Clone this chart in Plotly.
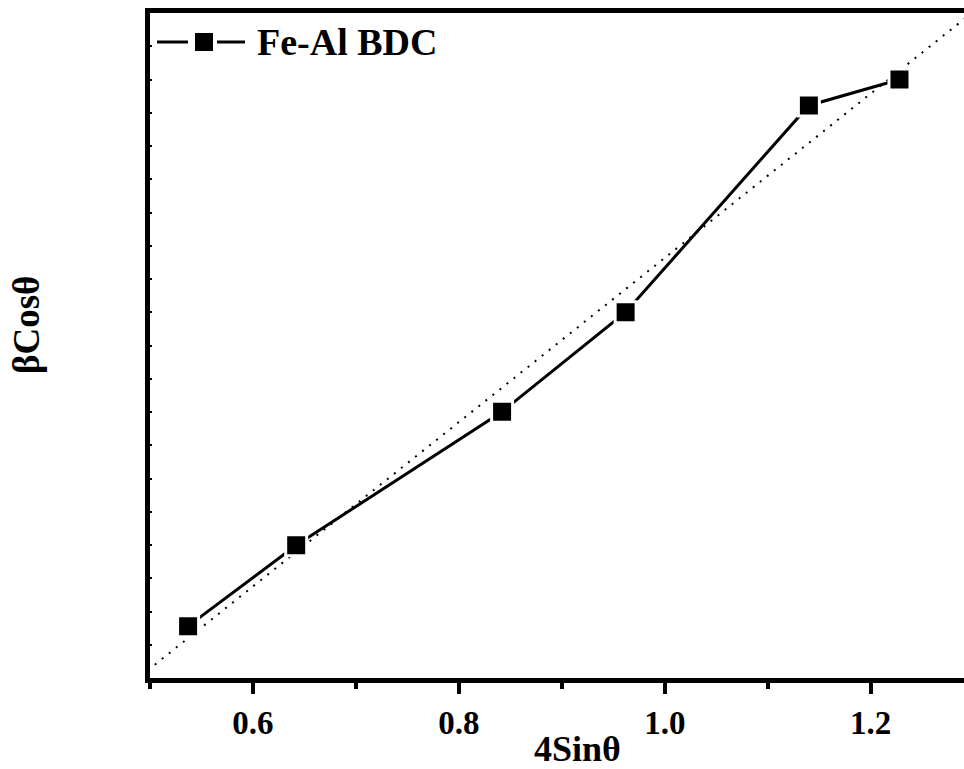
import numpy as np
import plotly.graph_objects as go

# Data (y axis has no labels, arbitrary units)
x_vals = [0.537, 0.642, 0.842, 0.962, 1.140, 1.228]
y_vals = [1.56, 3.99, 8.01, 11.0, 17.22, 18.0]
series_name = "Fe-Al BDC"
x_ticks = [0.6, 0.8, 1.0, 1.2]
x_ticklabels = ["0.6", "0.8", "1.0", "1.2"]
x_title = "4Sinθ"
y_title = "βCosθ"

FONT = "Liberation Serif"

# Plot-area geometry in pixels
W, H = 964, 769
L, R, T, B = 150, 0, 13, 91
PW, PH = W - L - R, H - T - B


def px(xp):
    return (xp - L) / PW


def py(yp):
    return (H - B - yp) / PH


def bold(s):
    return "<b>" + s + "</b>"


# Linear fit (dotted line)
slope, intercept = np.polyfit(x_vals, y_vals, 1)
fit_x = [0.45, 1.35]
fit_y = [slope * v + intercept for v in fit_x]

fig = go.Figure()
fig.add_trace(go.Scatter(
    x=fit_x, y=fit_y, mode="lines",
    line=dict(color="black", width=2, dash="2px,7px"),
    showlegend=False, hoverinfo="skip",
))
fig.add_trace(go.Scatter(
    x=x_vals, y=y_vals, mode="lines+markers", name=series_name,
    line=dict(color="black", width=3),
    marker=dict(symbol="square", size=21, color="black",
                line=dict(color="white", width=3)),
    showlegend=False,
))

# Legend drawn manually (line - square - line, then text)
leg_y = 42
shapes = [
    dict(type="line", xref="paper", yref="paper",
         x0=px(157), x1=px(188), y0=py(leg_y), y1=py(leg_y),
         line=dict(color="black", width=3)),
    dict(type="line", xref="paper", yref="paper",
         x0=px(217), x1=px(245), y0=py(leg_y), y1=py(leg_y),
         line=dict(color="black", width=3)),
    dict(type="rect", xref="paper", yref="paper",
         x0=px(195), x1=px(213), y0=py(leg_y + 9), y1=py(leg_y - 9),
         line=dict(width=0), fillcolor="black"),
]

fig.update_layout(
    width=W, height=H,
    margin=dict(l=L, r=R, t=T, b=B),
    paper_bgcolor="white", plot_bgcolor="white",
    showlegend=False,
    shapes=shapes,
    xaxis=dict(
        range=[0.5, 0.5 + PW / 1029.5],
        showline=True, linewidth=5, linecolor="black", mirror=True,
        showgrid=False, zeroline=False,
        tickmode="array", tickvals=x_ticks,
        ticktext=[bold(t) for t in x_ticklabels],
        ticks="outside", ticklen=11, tickwidth=4, tickcolor="black",
        tickfont=dict(family=FONT, size=33, color="black"),
        minor=dict(dtick=0.1, tick0=0.5, ticks="outside", ticklen=6,
                   tickwidth=4, tickcolor="black"),
    ),
    yaxis=dict(
        range=[0, 20],
        showline=True, linewidth=5, linecolor="black", mirror=False,
        showgrid=False, zeroline=False,
        dtick=1, tick0=0, ticks="inside", ticklen=2, tickwidth=2,
        tickcolor="black", showticklabels=False,
    ),
    annotations=[
        dict(text=bold(series_name), xref="paper", yref="paper",
             x=px(255), y=py(leg_y), xanchor="left", yanchor="middle",
             showarrow=False,
             font=dict(family=FONT, size=38, color="black")),
        dict(text=bold(x_title), xref="paper", yref="paper",
             x=px(577), y=py(749),
             xanchor="center", yanchor="middle", showarrow=False,
             font=dict(family=FONT, size=36, color="black")),
        dict(text=bold(y_title), xref="paper", yref="paper",
             x=px(27), y=py(325),
             xanchor="center", yanchor="middle", showarrow=False,
             textangle=-90,
             font=dict(family=FONT, size=37, color="black")),
    ],
)

fig.write_html("out.html")
